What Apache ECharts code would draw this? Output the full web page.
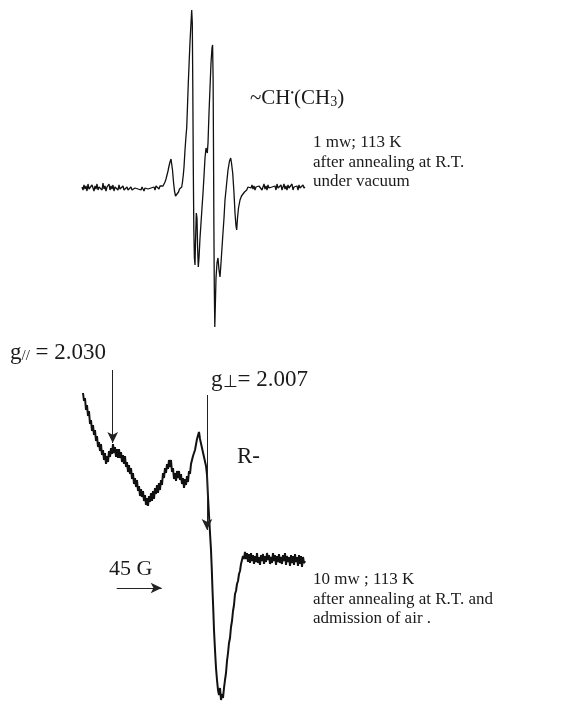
<!DOCTYPE html>
<html>
<head>
<meta charset="utf-8">
<script src="https://cdn.jsdelivr.net/npm/echarts@6/dist/echarts.min.js"></script>
<style>
  html, body { margin: 0; padding: 0; background: #fff; }
  #epr { width: 573px; height: 707px; }
</style>
</head>
<body>
<div id="epr"></div>
<script>
// relative field (G) vs. first-derivative signal (arb. units)
const vacuumSpectrum = [
  [0,1],[1,-2],[2,3],[3,-1],[4,2],[5,-3],[6,4],[7,-1],[8,1],[9,-2],[10,3],[11,0],[12,-3],[13,2],[14,-1],
  [15,4],[16,-2],[17,1],[18,-1],[19,3],[20,-2],[21,5],[22,-1],[23,2],[24,-3],[25,1],[26,-1],[27,4],[28,-2],
  [29,2],[30,-1],[31,3],[32,-3],[33,1],[34,0],[35,2],[36,-2],[37,3],[38,-1],[39,1],[40,-3],[41,2],[42,-2],
  [43,0],[44,-3],[45,1],[46,-2],[47,0],[48,-3],[49,1],[50,-2],[51,-1],[52,-3],[53,0],[54,-2],[55,1],[56,-1],
  [57,-3],[58,0],[59,-2],[60,1],[61,-1],[62,-3],[63,0],[64,-2],[65,2],[66,-1],[67,1],[68,-2],[69,0],[70,2],
  [71,-1],[72,1],[73,-2],[74,2],[75,0],[76,1],[77,-1],[78,2],[79,0],
  [80,1],[81,2],[82,4],[83,6],[84,9],[85,13],[86,17],[87,22],[88,26],[89,29],[89.7,27],[90.5,18],[91.5,6],
  [92.5,-3],[93.5,-8],[94.7,-10],[95.5,-8],[96.5,-4],[97.5,-1],[98.5,0],[99.7,1],[100.5,6],[101.3,13],[102,21],
  [103,38],[104,52],[104.7,60],[105.5,82],[106.3,105],[107.2,127],[108,146],[109,165],[109.7,178],[110.3,165],
  [110.8,100],[111.3,20],[111.8,-40],[112.4,-70],[113,-77],[113.6,-50],[114.3,-25],[115,-30],[115.6,-60],
  [116.3,-79],[117,-70],[118,-50],[119,-35],[120,-20],[121,-5],[122,12],[123,30],[124,40],[124.7,42],[125.3,35],
  [126,45],[127,75],[128,100],[129,125],[130,140],[130.6,143],[131.1,110],[131.5,40],[131.9,-40],[132.3,-100],
  [132.8,-139],[133.4,-115],[134,-90],[135,-75],[136,-70],[137,-82],[138,-89],[139,-75],[140.7,-49],[142,-30],
  [143,-12],[144.7,5],[146,18],[147.5,27],[148.7,30],[149.5,25],[150.7,15],[152,-5],[153,-25],[154,-38],
  [154.7,-42],[155.5,-30],[156.5,-20],[158,-12],[159.5,-8],[161,-6],[162.5,-4],[164.7,-2],
  [166,1],[167,-1],[168,2],[169,0],[170,3],[171,-1],[172,2],[173,-2],[174,1],[175,3],[176,-1],[177,2],[178,0],
  [179,3],[180,-2],[181,1],[182,4],[183,-1],[184,2],[185,-2],[186,3],[187,0],[188,2],[189,-2],[190,1],[191,3],
  [192,-1],[193,2],[194,-2],[195,4],[196,0],[197,2],[198,-1],[199,3],[200,-2],[201,1],[202,4],[203,-1],[204,2],
  [205,-2],[206,3],[207,0],[208,2],[209,-1],[210,4],[211,-2],[212,1],[213,3],[214,-1],[215,2],[216,-2],[217,3],
  [218,0],[219,2],[220,-1],[221,3],[222,0],[223,1]
];

const airSpectrum = [
  [1,164],[2,156],[3,159],[4,147],[5,152],[6,141],[7,146],[8,133],[9,137],[10,126],[11,132],[12,122],[13,127],
  [14,116],[15,121],[16,110],[17,115],[18,106],[19,113],[20,102],[21,107],[22,97],[23,104],[24,93],[25,101],
  [26,95],[27,106],[28,100],[29,109],[30,103],[31,113],[32,104],[33,110],[34,100],[35,108],[36,99],[37,108],
  [38,99],[39,105],[40,95],[41,102],[42,93],[43,101],[44,90],[45,95],[46,85],[47,92],[48,83],[49,89],[50,78],
  [51,84],[52,73],[53,79],[54,70],[55,77],[56,66],[57,71],[58,61],[59,68],[60,60],[61,66],[62,56],[63,62],
  [64,52],[65,59],[66,51],[67,61],[68,55],[69,64],[70,56],[71,66],[72,58],[73,69],[74,63],[75,72],[76,64],
  [77,74],[78,67],[79,77],[80,72],[81,84],[82,79],[83,89],[84,84],[85,93],[86,88],[87,97],[88,90],[89,97],
  [90,85],[91,89],[92,78],[93,84],[94,76],[95,86],[96,79],[97,86],[98,77],[99,83],[100,73],[101,79],[102,69],
  [103,78],[104,72],[105,81],[106,75],[107,86],[108,83],[109,93],[110,91],[111,101],[112,99],[113,107],
  [114,108],[115,118],[116,119],[117,125],[118,118],[119,117],[120,109],[121,109],[122,100],[123,98],[124,91],
  [125,82],[126,60],[127,42],[128,24],[129,7],[129.7,-10],[130.5,-33],[131.3,-53],[132,-73],[133,-93],
  [134,-111],[135,-123],[136,-133],[137,-138],[138,-131],[139,-143],[140,-137],[141,-141],[142,-131],
  [143,-123],[144,-116],[145,-104],[146,-96],[147,-86],[148,-81],[149,-70],[150,-64],[151,-54],[152,-48],
  [153,-37],[154,-34],[155,-27],[156,-24],[157,-17],[158,-14],[159,-7],[160,-6],[161,1],[162,-2],[163,5],
  [164,-2],[165,4],[166,-5],[167,3],[168,-6],[169,4],[170,-4],[171,2],[172,-7],[173,1],[174,-5],[175,4],
  [176,-6],[177,0],[178,-8],[179,2],[180,-4],[181,3],[182,-7],[183,1],[184,-5],[185,4],[186,-3],[187,2],
  [188,-7],[189,0],[190,-6],[191,4],[192,-4],[193,2],[194,-8],[195,1],[196,-5],[197,3],[198,-6],[199,0],
  [200,-7],[201,2],[202,-4],[203,4],[204,-8],[205,1],[206,-5],[207,0],[208,-9],[209,2],[210,-6],[211,1],
  [212,-8],[213,3],[214,-5],[215,0],[216,-9],[217,2],[218,-7],[219,1],[220,-10],[221,0],[222,-6],[223,-4]
];

// annotation arrows on the lower spectrum: [field, from, to] and the 45 G scale bar
const gParallelArrow = [30.7, 187, 114];
const gPerpArrow = [125, 162, 27];
const scaleBar = [34.7, 79.7, -31];

const serif = '"Liberation Serif", "Times New Roman", serif';

const chart = echarts.init(document.getElementById('epr'));

function label(left, top, text, size, rich) {
  return {
    type: 'text',
    left: left,
    top: top,
    silent: true,
    style: {
      text: text,
      font: size + 'px ' + serif,
      fill: '#1a1a1a',
      rich: rich || {}
    }
  };
}

const arrowLine = (a, b) => [{ coord: a }, { coord: b }];

chart.setOption({
  backgroundColor: '#fff',
  animation: false,
  grid: [
    { left: 82, width: 223, top: 5, height: 325, show: false },
    { left: 82, width: 223, top: 360, height: 345, show: false }
  ],
  xAxis: [
    { type: 'value', gridIndex: 0, min: 0, max: 223, show: false },
    { type: 'value', gridIndex: 1, min: 0, max: 223, show: false }
  ],
  yAxis: [
    { type: 'value', gridIndex: 0, min: -142, max: 183, show: false },
    { type: 'value', gridIndex: 1, min: -148, max: 197, show: false }
  ],
  series: [
    {
      type: 'line',
      xAxisIndex: 0,
      yAxisIndex: 0,
      data: vacuumSpectrum,
      showSymbol: false,
      lineStyle: { color: '#111', width: 1.3 }
    },
    {
      type: 'line',
      xAxisIndex: 1,
      yAxisIndex: 1,
      data: airSpectrum,
      showSymbol: false,
      lineStyle: { color: '#111', width: 2 },
      markLine: {
        silent: true,
        symbol: ['none', 'arrow'],
        symbolSize: [8, 11],
        label: { show: false },
        lineStyle: { color: '#222', width: 1, type: 'solid' },
        emphasis: { disabled: true },
        data: [
          arrowLine([gParallelArrow[0], gParallelArrow[1]], [gParallelArrow[0], gParallelArrow[2]]),
          arrowLine([gPerpArrow[0], gPerpArrow[1]], [gPerpArrow[0], gPerpArrow[2]]),
          arrowLine([scaleBar[0], scaleBar[2]], [scaleBar[1], scaleBar[2]])
        ]
      }
    }
  ],
  graphic: [
    label(250, 88, '~CH{sup|•}(CH{sub|3})', 21, {
      sup: { fontSize: 10, fontFamily: serif, lineHeight: 12, verticalAlign: 'top' },
      sub: { fontSize: 14, fontFamily: serif, lineHeight: 12, verticalAlign: 'bottom' }
    }),
    label(313, 134, '1 mw; 113 K', 17),
    label(313, 154, 'after annealing at R.T.', 17),
    label(313, 173, 'under vacuum', 17),
    label(10, 341, 'g{sub|//} = 2.030', 23, {
      sub: { fontSize: 15, fontFamily: serif, lineHeight: 12, verticalAlign: 'bottom' }
    }),
    label(211, 368, 'g{sub|⊥}= 2.007', 23, {
      sub: { fontSize: 17, fontFamily: serif, lineHeight: 12, verticalAlign: 'bottom' }
    }),
    label(237, 445, 'R-', 23),
    label(313, 571, '10 mw ; 113 K', 17),
    label(313, 591, 'after annealing at R.T. and', 17),
    label(313, 610, 'admission of air .', 17),
    label(109, 558, '45 G', 22)
  ]
});
</script>
</body>
</html>
